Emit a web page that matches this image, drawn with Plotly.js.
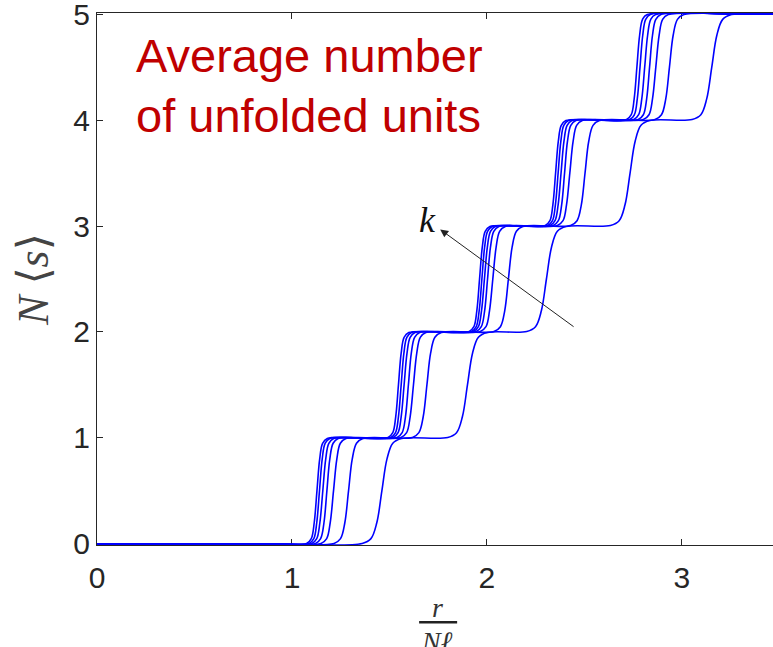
<!DOCTYPE html>
<html>
<head>
<meta charset="utf-8">
<script src="https://cdn.plot.ly/plotly-3.0.1.min.js"></script>
<style>
html,body{margin:0;padding:0;background:#fff;overflow:hidden;}
#chart{width:773px;height:647px;}
</style>
</head>
<body>
<div id="chart"></div>
<script>
// Shared y-levels (average number of unfolded units) at which x positions were read
const levelsY = [0, 0,
  0.005,0.05,0.2,0.5,0.8,0.95,0.995,
  1.005,1.05,1.2,1.5,1.8,1.95,1.995,
  2.005,2.05,2.2,2.5,2.8,2.95,2.995,
  3.005,3.05,3.2,3.5,3.8,3.95,3.995,
  4.005,4.05,4.2,4.5,4.8,4.95,4.995,
  5, 5];

// x positions (r / N l) for each curve, increasing k from curve7 to curve1
const curve1X = [0, 0.9,
  1.075,1.099,1.114,1.128,1.142,1.157,1.181,
  1.493,1.517,1.532,1.546,1.560,1.575,1.599,
  1.909,1.933,1.948,1.962,1.976,1.991,2.015,
  2.299,2.323,2.338,2.352,2.366,2.381,2.405,
  2.716,2.740,2.755,2.769,2.783,2.798,2.822,
  3.3, 3.5];
const curve2X = [0, 0.9,
  1.088,1.112,1.127,1.141,1.155,1.170,1.194,
  1.507,1.531,1.546,1.560,1.574,1.589,1.613,
  1.921,1.945,1.960,1.974,1.988,2.003,2.027,
  2.312,2.336,2.351,2.365,2.379,2.394,2.418,
  2.732,2.756,2.771,2.785,2.799,2.814,2.838,
  3.3, 3.5];
const curve3X = [0, 0.9,
  1.102,1.127,1.143,1.158,1.173,1.189,1.214,
  1.519,1.544,1.560,1.575,1.590,1.606,1.631,
  1.931,1.956,1.972,1.987,2.002,2.018,2.043,
  2.324,2.349,2.365,2.380,2.395,2.411,2.436,
  2.753,2.778,2.794,2.809,2.824,2.840,2.865,
  3.3, 3.5];
const curve4X = [0, 0.9,
  1.121,1.147,1.164,1.179,1.194,1.211,1.237,
  1.539,1.565,1.582,1.597,1.612,1.629,1.655,
  1.945,1.971,1.988,2.003,2.018,2.035,2.061,
  2.340,2.366,2.383,2.398,2.413,2.430,2.456,
  2.776,2.802,2.819,2.834,2.849,2.866,2.892,
  3.3, 3.5];
const curve5X = [0, 0.9,
  1.149,1.178,1.196,1.213,1.230,1.248,1.277,
  1.559,1.588,1.606,1.623,1.640,1.658,1.687,
  1.966,1.995,2.013,2.030,2.047,2.065,2.094,
  2.361,2.390,2.408,2.425,2.442,2.460,2.489,
  2.802,2.831,2.849,2.866,2.883,2.901,2.930,
  3.3, 3.5];
const curve6X = [0, 0.9,
  1.216,1.249,1.271,1.290,1.309,1.331,1.364,
  1.618,1.651,1.673,1.692,1.711,1.733,1.766,
  2.036,2.069,2.091,2.110,2.129,2.151,2.184,
  2.429,2.462,2.484,2.503,2.522,2.544,2.577,
  2.862,2.895,2.917,2.936,2.955,2.977,3.010,
  3.3, 3.5];
const curve7X = [0, 0.9,
  1.360,1.405,1.435,1.461,1.487,1.517,1.562,
  1.799,1.844,1.874,1.900,1.926,1.956,2.001,
  2.204,2.249,2.279,2.305,2.331,2.361,2.406,
  2.633,2.678,2.708,2.734,2.760,2.790,2.835,
  3.052,3.097,3.127,3.153,3.179,3.209,3.254,
  3.3, 3.5];

const xTicks = [0, 1, 2, 3];
const yTicks = [0, 1, 2, 3, 4, 5];

const allCurves = [curve1X, curve2X, curve3X, curve4X, curve5X, curve6X, curve7X];
const traces = allCurves.map(xs => ({
  x: xs, y: levelsY, type: 'scatter', mode: 'lines',
  line: {color: '#0000ff', width: 1.6, shape: 'spline', smoothing: 1},
  hoverinfo: 'skip', showlegend: false
}));

const axisCol = '#262626';
const redFont = {family: 'Liberation Sans, Arial, sans-serif', size: 47, color: '#c00000'};
const layout = {
  width: 773, height: 647,
  margin: {l: 97, r: 0, t: 13, b: 102},
  paper_bgcolor: '#fff', plot_bgcolor: '#fff',
  showlegend: false,
  xaxis: {
    range: [0, 3.467], tickvals: xTicks, ticktext: xTicks.map(String),
    ticks: 'inside', ticklen: 6, tickwidth: 1, tickcolor: axisCol,
    showline: true, linecolor: axisCol, linewidth: 1, mirror: 'ticks',
    showgrid: false, zeroline: false, layer: 'below traces',
    tickfont: {family: 'Liberation Sans, Arial, sans-serif', size: 30, color: axisCol},
    ticklabelstandoff: 6
  },
  yaxis: {
    range: [-0.01, 5.01], tickvals: yTicks, ticktext: yTicks.map(String),
    ticks: 'inside', ticklen: 6, tickwidth: 1, tickcolor: axisCol,
    showline: true, linecolor: axisCol, linewidth: 1, mirror: false,
    showgrid: false, zeroline: false, layer: 'below traces',
    ticklabeloverflow: 'allow',
    tickfont: {family: 'Liberation Sans, Arial, sans-serif', size: 30, color: axisCol},
    title: {text: '<i>N</i> ⟨<i>s</i>⟩', standoff: 10,
      font: {family: 'Liberation Serif, DejaVu Serif, serif', size: 44, color: '#444'}}
  },
  annotations: [
    {xref: 'x', yref: 'y', x: 0.191, y: 4.88, xanchor: 'left', yanchor: 'top', align: 'left',
     text: 'Average number', showarrow: false, font: redFont},
    {xref: 'x', yref: 'y', x: 0.191, y: 4.314, xanchor: 'left', yanchor: 'top', align: 'left',
     text: 'of unfolded units', showarrow: false, font: redFont},
    {xref: 'x', yref: 'y', x: 1.760, y: 2.968, ax: 2.452, ay: 2.04, axref: 'x', ayref: 'y',
     text: '', showarrow: true, arrowhead: 2, arrowsize: 1.6, arrowwidth: 1, arrowcolor: '#222'},
    {xref: 'x', yref: 'y', x: 1.693, y: 3.06, text: '<i>k</i>', showarrow: false,
     font: {family: 'Liberation Serif, DejaVu Serif, serif', size: 36, color: '#111'}},
    {xref: 'x', yref: 'paper', x: 1.745, y: -0.118, text: '<i>r</i>', showarrow: false,
     yanchor: 'middle',
     font: {family: 'Liberation Serif, DejaVu Serif, serif', size: 28, color: '#333'}},
    {xref: 'x', yref: 'paper', x: 1.745, y: -0.181, text: '<i>Nℓ</i>', showarrow: false,
     yanchor: 'middle',
     font: {family: 'Liberation Serif, DejaVu Serif, serif', size: 28, color: '#333'}}
  ],
  shapes: [
    {type: 'line', xref: 'x', yref: 'paper', x0: 1.652, x1: 1.847, y0: -0.145, y1: -0.145,
     line: {color: '#222', width: 2.5}}
  ]
};

Plotly.newPlot('chart', traces, layout, {staticPlot: true, displayModeBar: false});
</script>
</body>
</html>
